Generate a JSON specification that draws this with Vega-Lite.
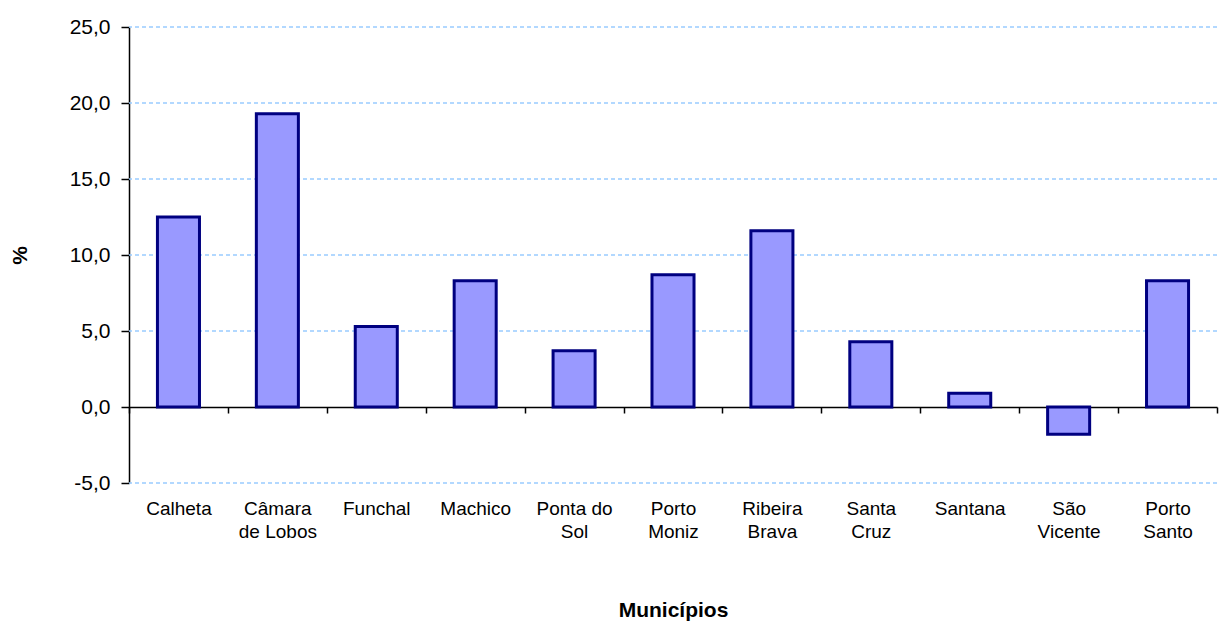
{
  "$schema": "https://vega.github.io/schema/vega-lite/v6.json",
  "width": 1088,
  "height": 456,
  "autosize": "none",
  "padding": {"left": 129, "top": 27, "right": 2, "bottom": 139},
  "background": "white",
  "config": {
    "view": {"stroke": null},
    "font": "Liberation Sans"
  },
  "datasets": {
    "bars": [
      {"m": "Calheta", "v": 12.5},
      {"m": "Câmara|de Lobos", "v": 19.3},
      {"m": "Funchal", "v": 5.3},
      {"m": "Machico", "v": 8.3},
      {"m": "Ponta do|Sol", "v": 3.7},
      {"m": "Porto|Moniz", "v": 8.7},
      {"m": "Ribeira|Brava", "v": 11.6},
      {"m": "Santa|Cruz", "v": 4.3},
      {"m": "Santana", "v": 0.9},
      {"m": "São|Vicente", "v": -1.8},
      {"m": "Porto|Santo", "v": 8.3}
    ],
    "grid": [{"g": -5}, {"g": 5}, {"g": 10}, {"g": 15}, {"g": 20}, {"g": 25}]
  },
  "layer": [
    {
      "data": {"name": "grid"},
      "mark": {"type": "rule", "stroke": "#99ccff", "strokeDash": [4, 3], "strokeWidth": 1.5},
      "encoding": {"y": {"field": "g", "type": "quantitative"}}
    },
    {
      "data": {"name": "bars"},
      "mark": {"type": "bar", "fill": "#9999ff", "stroke": "#000080", "strokeWidth": 3, "width": {"band": 0.425}},
      "encoding": {
        "x": {
          "field": "m", "type": "nominal", "sort": null,
          "scale": {"paddingInner": 0, "paddingOuter": 0},
          "axis": {
            "title": "Municípios", "titleFontSize": 21, "titleFontWeight": "bold", "titleColor": "black", "titlePadding": 58,
            "offset": -76, "domainColor": "black", "domainWidth": 1.5,
            "tickBand": "extent", "tickColor": "black", "tickSize": 6, "tickWidth": 1.5,
            "labelAngle": 0, "labelFontSize": 19, "labelColor": "black", "labelPadding": 86,
            "labelBaseline": "top", "labelLineHeight": 23,
            "labelExpr": "split(datum.label, '|')"
          }
        },
        "y": {
          "field": "v", "type": "quantitative",
          "scale": {"domain": [-5, 25], "nice": false, "zero": false},
          "axis": {
            "title": "%", "titleFontSize": 21, "titleFontWeight": "bold", "titleColor": "black",
            "titleX": -109, "titleY": 228, "titleAngle": -90, "titleAlign": "center", "titleBaseline": "middle",
            "values": [-5, 0, 5, 10, 15, 20, 25],
            "domainColor": "black", "domainWidth": 1.5,
            "tickColor": "black", "tickSize": 8, "tickWidth": 1.5,
            "labelFontSize": 21, "labelColor": "black", "labelPadding": 11,
            "labelExpr": "(datum.value < 0 ? '-' : '') + replace(format(abs(datum.value), '.1f'), '.', ',')",
            "grid": false
          }
        }
      }
    }
  ]
}
